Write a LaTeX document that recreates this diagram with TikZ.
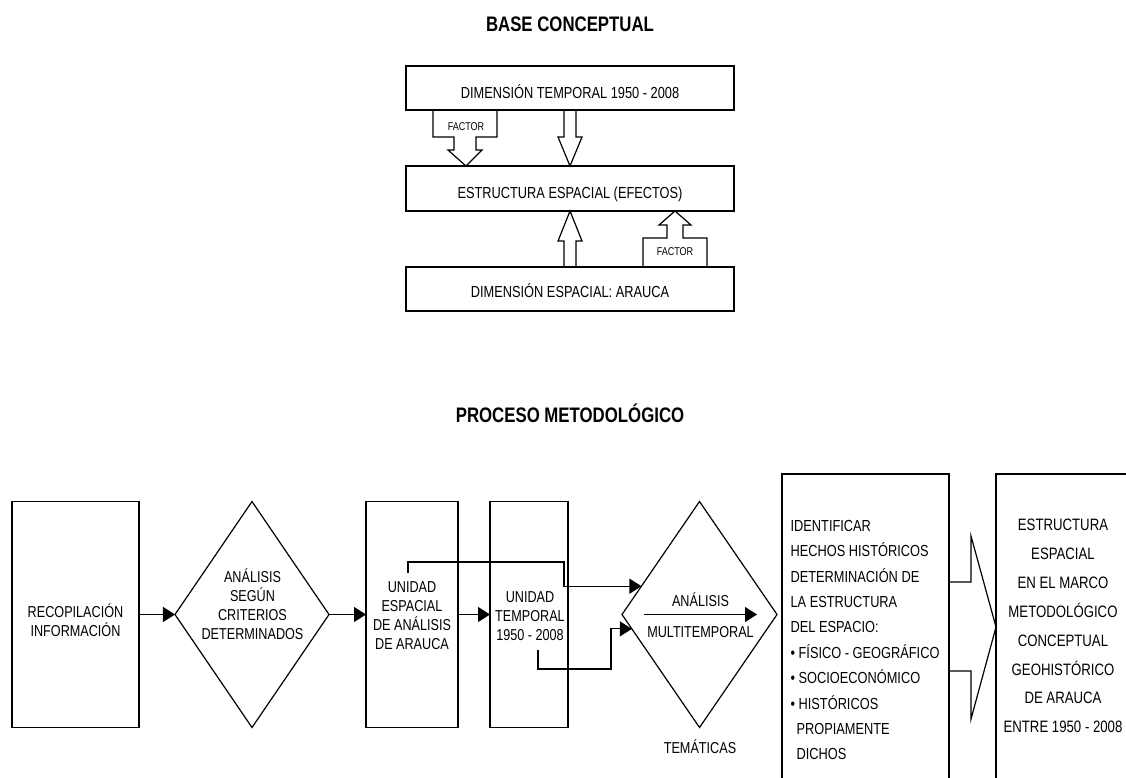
\documentclass[tikz,border=0pt]{standalone}
\usepackage{fontspec}
\setmainfont{Liberation Sans}[FakeStretch=0.8]
\usetikzlibrary{shapes.geometric,arrows.meta}

\begin{document}
\begin{tikzpicture}[x=1pt, y=-1pt, line width=1.2pt,
        box/.style={draw, rectangle, inner sep=0pt, outer sep=0pt},
        rhomb/.style={draw, diamond, inner sep=0pt, outer sep=0pt},
        txt/.style={inner sep=0pt, align=center, font=\fontsize{15.8}{19}\selectfont},
        big/.style={inner sep=0pt, font=\fontsize{16}{19}\selectfont},
        fac/.style={inner sep=0pt, font=\fontsize{11.3}{13}\selectfont},
        title/.style={inner sep=0pt, font=\fontsize{21}{25}\selectfont\bfseries},
        arr/.style={-{Triangle[length=12pt, width=15pt]}}]
        % Define Variables
        \def\rowY{614.5}

        \useasboundingbox (0,0) rectangle (1126,777);
        \clip (0,0) rectangle (1126,777);

        % Base Conceptual
        \node[title, anchor=base] (bc-title) at (570,31.5) {BASE CONCEPTUAL};
        \node[box, minimum width=328, minimum height=44] (dim-t) at (570,88) {};
        \node[big, anchor=base] (dim-t-txt) at (570,98) {DIMENSIÓN TEMPORAL 1950 - 2008};
        \node[box, minimum width=328, minimum height=45] (est-e) at (570,188.5) {};
        \node[big, anchor=base] (est-e-txt) at (570,198) {ESTRUCTURA ESPACIAL (EFECTOS)};
        \node[box, minimum width=328, minimum height=44] (dim-e) at (570,289) {};
        \node[big, anchor=base] (dim-e-txt) at (570,297.5) {DIMENSIÓN ESPACIAL: ARAUCA};

        % Block arrows
        \draw ([xshift=-137]dim-t.south) -- ++(0,27) -- ++(21,0) -- ++(0,13) -- ++(-6,0)
            -- (est-e.north -| 466,0) -- ++(16,-16) -- ++(-6,0) -- ++(0,-13) -- ++(21,0) -- ++(0,-27);
        \node[fac, anchor=base] (fac-1) at (466,130) {FACTOR};
        \draw ([xshift=-6]dim-t.south) -- ++(0,27) -- ++(-6,0) -- (est-e.north) -- ++(12,-29) -- ++(-6,0) -- ++(0,-27);
        \draw ([xshift=-6]dim-e.north) -- ++(0,-26) -- ++(-6,0) -- (est-e.south) -- ++(12,30) -- ++(-6,0) -- ++(0,26);
        \draw ([xshift=73]dim-e.north) -- ++(0,-29) -- ++(24,0) -- ++(0,-13) -- ++(-8,0)
            -- (est-e.south -| 675,0) -- ++(16,14) -- ++(-8,0) -- ++(0,13) -- ++(24,0) -- ++(0,29);
        \node[fac, anchor=base] (fac-2) at (675,255) {FACTOR};

        % Proceso Metodologico
        \node[title, anchor=base] (pm-title) at (570,422) {PROCESO METODOLÓGICO};

        \node[box, minimum width=127, minimum height=226] (rec) at (75.5,\rowY) {};
        \node[txt] (rec-txt) at (75.5,620) {RECOPILACIÓN\\INFORMACIÓN};
        \node[rhomb, minimum width=154, minimum height=226] (dia-1) at (252,\rowY) {};
        \node[txt] (dia-1-txt) at (252.5,604) {ANÁLISIS\\SEGÚN\\CRITERIOS\\DETERMINADOS};
        \node[box, minimum width=92, minimum height=226] (esp) at (412,\rowY) {};
        \node[txt] (esp-txt) at (412,616) {UNIDAD\\ESPACIAL\\DE ANÁLISIS\\DE ARAUCA};
        \node[box, minimum width=78, minimum height=226] (tem) at (529,\rowY) {};
        \node[txt] (tem-txt) at (530,616) {UNIDAD\\TEMPORAL\\1950 - 2008};
        \node[rhomb, minimum width=155, minimum height=226] (dia-2) at (699.5,\rowY) {};
        \node[txt, anchor=base] (tematicas) at (700,753) {TEMÁTICAS};

        \node[box, minimum width=167, minimum height=330, anchor=north west] (ide) at (782,474) {};
        \node[inner sep=0pt, align=left, anchor=west, font=\fontsize{16}{25.4}\selectfont] (ide-txt) at (790,640)
            {IDENTIFICAR\\HECHOS HISTÓRICOS\\DETERMINACIÓN DE\\LA ESTRUCTURA\\DEL ESPACIO:\\%
             • FÍSICO - GEOGRÁFICO\\• SOCIOECONÓMICO\\• HISTÓRICOS\\\hspace*{6pt}PROPIAMENTE\\\hspace*{6pt}DICHOS};
        \node[box, minimum width=160, minimum height=330, anchor=north west] (est) at (996,474) {};
        \node[inner sep=0pt, align=center, font=\fontsize{16.5}{28.9}\selectfont] (est-txt) at (1063,626)
            {ESTRUCTURA\\ESPACIAL\\EN EL MARCO\\METODOLÓGICO\\CONCEPTUAL\\GEOHISTÓRICO\\DE ARAUCA\\ENTRE 1950 - 2008};

        % Connectors
        \draw[arr] (rec) -- (dia-1);
        \draw[arr] (dia-1) -- (esp);
        \draw[arr] (esp) -- (tem);
        \coordinate (c-1) at (408,573);
        \coordinate (c-2) at (538,650);
        \draw[arr] (c-1) |- (564,562) |- (dia-2.154);
        \draw[arr] (c-2) |- (611,669) |- (dia-2.192);
        \draw[arr] ([xshift=22]dia-2.west) -- ([xshift=-20]dia-2.east)
            node[txt, midway, anchor=south, inner sep=7pt] (an-1) {ANÁLISIS}
            node[txt, midway, anchor=north, inner sep=11.5pt] (an-2) {MULTITEMPORAL};

        % Big arrow
        \draw (ide.east |- 0,582) -- ++(22,0) -- ++(0,-46) -- (est.west |- 0,627) -- (971,719) -- ++(0,-48) -- (ide.east |- 0,671);

    \end{tikzpicture}
\end{document}
